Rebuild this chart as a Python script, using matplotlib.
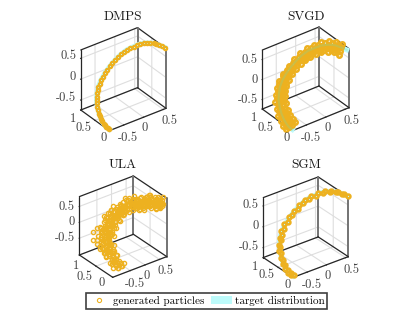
import numpy as np
import matplotlib
matplotlib.use("Agg")
import matplotlib.pyplot as plt
from mpl_toolkits.mplot3d import proj3d

plt.rcParams['font.family'] = ['cmr10', 'DejaVu Sans']
plt.rcParams['axes.unicode_minus'] = False

W, H = 415, 312
ORANGE = "#EDB120"
CYAN = "#BDFBFB"

# ── values ────────────────────────────────────────────────────────────────────
target_x = [-.86, -.865, -.87, -.865, -.86, -.855, -.85, -.84, -.83, -.815, -.80, -.775, -.75, -.715, -.68, -.64, -.60, -.545, -.49, -.425, -.36,
            -.295, -.23, -.165, -.10, -.045, .01, .065, .12, .17, .22, .265, .31, .355, .40, .435, .47, .49, .51, .525, .54]
target_y = [0, .05, .1, .15, .2, .25, .3, .35, .4, .45, .5, .55, .6, .64, .68, .715, .75, .78, .81, .83, .85,
            .855, .86, .855, .85, .83, .81, .78, .75, .70, .65, .60, .55, .49, .43, .365, .30, .225, .15, .075, 0]
target_z = [-.71, -.705, -.70, -.685, -.67, -.64, -.61, -.575, -.54, -.49, -.44, -.39, -.34, -.295, -.25, -.205, -.16, -.115, -.07, -.02, .03,
            .085, .14, .195, .25, .305, .36, .41, .46, .505, .55, .59, .63, .655, .68, .695, .71, .715, .72, .725, .73]

sgm_x = [-.84, -.885, -.85, -.885, -.84, -.875, -.83, -.86, -.81, -.835, -.78, -.795, -.73, -.735, -.66, -.66, -.58, -.565, -.47, -.445, -.34,
         -.315, -.21, -.185, -.08, -.065, .03, .045, .14, .15, .24, .245, .33, .335, .42, .415, .49, .47, .53, .505, .56]
sgm_z = [-.70, -.71, -.69, -.69, -.66, -.645, -.60, -.58, -.53, -.495, -.43, -.395, -.33, -.30, -.24, -.21, -.17, -.10, -.09, 0, .01,
         .11, .12, .22, .23, .33, .34, .435, .44, .53, .53, .615, .61, .68, .66, .72, .69, .74, .70, .75, .71]

svgd_xyz = [
    (-.94, .1, -.73), (-.87, .1, -.70), (-.80, .1, -.67), (-.71, .1, -.64),
    (-.94, .2, -.69), (-.86, .2, -.67), (-.78, .2, -.65), (-.70, .2, -.62),
    (-.93, .3, -.63), (-.85, .3, -.61), (-.77, .3, -.59), (-.69, .3, -.57),
    (-.91, .4, -.56), (-.83, .4, -.54), (-.75, .4, -.52), (-.66, .4, -.51),
    (-.88, .5, -.45), (-.80, .5, -.44), (-.72, .5, -.43), (-.63, .5, -.41),
    (-.83, .6, -.35), (-.75, .6, -.34), (-.67, .6, -.33), (-.58, .6, -.32),
    (-.76, .68, -.25), (-.68, .68, -.25), (-.60, .68, -.25), (-.51, .68, -.25),
    (-.68, .75, -.14), (-.60, .75, -.16), (-.52, .75, -.18), (-.44, .75, -.19),
    (-.57, .81, -.05), (-.49, .81, -.07), (-.41, .81, -.09), (-.33, .81, -.12),
    (-.43, .85, .06), (-.36, .85, .03), (-.29, .85, 0), (-.21, .85, -.04),
    (-.29, .86, .19), (-.23, .86, .14), (-.17, .86, .09), (-.09, .86, .04),
    (-.15, .85, .31), (-.10, .85, .25), (-.05, .85, .19), (.01, .85, .12),
    (-.03, .81, .43), (.01, .81, .36), (.05, .81, .29), (.10, .81, .22),
    (.10, .75, .54), (.12, .75, .46), (.14, .75, .38), (.17, .75, .30),
    (.21, .65, .63), (.22, .65, .55), (.23, .65, .47), (.25, .65, .38),
    (.31, .55, .71), (.31, .55, .63), (.31, .55, .55), (.31, .55, .46),
    (.41, .43, .76), (.40, .43, .68), (.39, .43, .60), (.38, .43, .51),
    (.49, .3, .79), (.47, .3, .71), (.45, .3, .63), (.44, .3, .55),
    (.53, .15, .80), (.51, .15, .72), (.49, .15, .64), (.46, .15, .56),
    (-.90, .15, -.69), (-.83, .15, -.67), (-.75, .15, -.64),
    (-.89, .25, -.65), (-.82, .25, -.63), (-.74, .25, -.61),
    (-.88, .35, -.58), (-.80, .35, -.56), (-.72, .35, -.54),
    (-.85, .45, -.50), (-.78, .45, -.48), (-.70, .45, -.47),
    (-.81, .55, -.40), (-.74, .55, -.38), (-.66, .55, -.37),
    (-.76, .64, -.30), (-.68, .64, -.29), (-.60, .64, -.29),
    (-.68, .72, -.20), (-.60, .72, -.21), (-.52, .72, -.22),
    (-.59, .78, -.10), (-.51, .78, -.12), (-.43, .78, -.14),
    (-.46, .83, .01), (-.39, .83, -.02), (-.32, .83, -.05),
    (-.33, .86, .11), (-.27, .86, .08), (-.20, .86, .04),
    (-.18, .86, .23), (-.14, .86, .17), (-.08, .86, .12),
    (-.04, .83, .34), (0, .83, .27), (.05, .83, .21),
    (.07, .78, .44), (.09, .78, .38), (.12, .78, .30),
    (.16, .7, .54), (.18, .7, .47), (.20, .7, .39),
    (.26, .6, .63), (.27, .6, .55), (.28, .6, .47),
    (.35, .49, .70), (.35, .49, .62), (.34, .49, .54),
    (.44, .36, .74), (.43, .36, .66), (.42, .36, .58),
    (.50, .22, .75), (.48, .22, .67), (.46, .22, .59),
]

ula_xyz = [
    (-.72, .05, -.85), (-.79, .1, -.93), (-.89, .02, -.83), (-.97, .12, -.75), (-.85, .08, -.69), (-1.05, .05, -.67), (-.75, .12, -.73), (-.65, .06, -.79),
    (-.80, .06, -.80), (-.90, .1, -.76), (-.84, .14, -.86), (-.95, .04, -.72), (-.78, .03, -.70), (-.70, .1, -.88), (-.87, .16, -.68), (-.99, .1, -.84),
    (-.67, .25, -.66), (-.77, .2, -.74), (-.87, .3, -.60), (-.99, .22, -.56), (-1.09, .28, -.46), (-.81, .26, -.48), (-1.1, .2, -.52), (-.92, .18, -.44), (-.73, .3, -.54),
    (-.83, .22, -.62), (-.93, .26, -.54), (-.78, .28, -.58), (-.88, .2, -.68), (-1.0, .3, -.62), (-.72, .22, -.62), (-.96, .32, -.48), (-.86, .34, -.52),
    (-.55, .45, -.525), (-.62, .4, -.585), (-.72, .48, -.465), (-.82, .42, -.405), (-.94, .46, -.365), (-1.04, .42, -.445), (-.76, .5, -.345), (-.88, .5, -.525), (-1.1, .46, -.305),
    (-.70, .44, -.53), (-.80, .46, -.47), (-.88, .42, -.42), (-.66, .5, -.44), (-.95, .5, -.46), (-.74, .38, -.40), (-.84, .38, -.55), (-.60, .48, -.48),
    (-.36, .6, -.40), (-.46, .58, -.30), (-.56, .62, -.42), (-.66, .6, -.28), (-.78, .56, -.36), (-.88, .62, -.24), (-.96, .6, -.34), (-.52, .6, -.22), (-.72, .64, -.18),
    (-.60, .56, -.34), (-.70, .6, -.40), (-.50, .66, -.36), (-.62, .64, -.24), (-.80, .62, -.30), (-.44, .62, -.38), (-.74, .54, -.26), (-.86, .56, -.30),
    (-.18, .72, -.315), (-.28, .7, -.195), (-.38, .74, -.295), (-.48, .7, -.155), (-.58, .74, -.235), (-.70, .7, -.115), (-.80, .72, -.075), (-.34, .72, -.095), (-.52, .76, -.035),
    (-.40, .68, -.22), (-.50, .72, -.24), (-.30, .76, -.22), (-.62, .7, -.18), (-.44, .76, -.12), (-.56, .68, -.10), (-.68, .76, -.14), (-.26, .7, -.26), (-.96, .72, -.15), (-.95, .72, -.41),
    (.10, .82, -.245), (0, .8, -.125), (-.08, .84, -.225), (-.18, .8, -.065), (-.28, .84, -.145), (-.38, .82, .035), (-.46, .8, -.025), (-.06, .82, -.005), (-.24, .84, .095),
    (-.12, .78, -.16), (-.20, .82, -.18), (-.04, .86, -.14), (-.30, .8, -.08), (-.16, .86, -.02), (-.34, .84, -.02), (.04, .8, -.18), (-.42, .86, .06),
    (.25, .86, -.135), (.17, .84, -.015), (.09, .88, -.115), (-.01, .84, .045), (-.11, .88, -.035), (-.19, .86, .165), (-.29, .84, .105), (.13, .86, .125), (-.07, .88, .245),
    (.02, .84, -.06), (.10, .9, .02), (-.06, .86, .10), (.18, .82, -.08), (-.16, .9, .04), (.04, .88, .18), (-.22, .82, .22), (.21, .88, .05),
    (.55, .85, -.085), (.49, .84, .055), (.43, .86, -.025), (.35, .84, .155), (.27, .86, .115), (.21, .84, .295), (.13, .86, .255), (.43, .82, .235), (.31, .86, .375),
    (.38, .82, .03), (.30, .88, .05), (.46, .88, .12), (.24, .82, .18), (.36, .88, .26), (.18, .88, .16), (.52, .82, .18), (.40, .84, .34),
    (.64, .75, -.045), (.60, .72, .075), (.54, .78, .035), (.50, .74, .175), (.44, .76, .315), (.40, .72, .415), (.58, .76, .255), (.48, .74, .455), (.66, .72, .195),
    (.56, .7, .14), (.50, .78, .10), (.62, .74, .12), (.46, .72, .26), (.54, .74, .33), (.42, .78, .22), (.68, .78, .08), (.52, .7, .38),
    (.64, .6, .05), (.60, .58, .15), (.54, .62, .21), (.50, .58, .33), (.46, .6, .45), (.62, .62, .33), (.56, .6, .49), (.68, .58, .23), (.42, .62, .31),
    (.58, .56, .26), (.52, .6, .12), (.66, .64, .14), (.48, .64, .24), (.60, .66, .40), (.54, .54, .38), (.44, .56, .40), (.70, .62, .30),
    (.68, .42, .23), (.64, .4, .33), (.60, .44, .43), (.56, .38, .53), (.54, .4, .65), (.66, .42, .57), (.72, .4, .41), (.60, .38, .69), (.50, .42, .39),
    (.62, .46, .30), (.58, .36, .40), (.70, .44, .50), (.54, .46, .55), (.64, .36, .48), (.56, .42, .34), (.74, .38, .32), (.66, .46, .62),
    (.73, .2, .365), (.67, .22, .465), (.63, .18, .565), (.59, .2, .685), (.73, .18, .605), (.69, .22, .725), (.75, .2, .505), (.63, .22, .365), (.55, .2, .545),
    (.65, .26, .42), (.60, .26, .54), (.71, .24, .55), (.67, .16, .50), (.62, .14, .62), (.74, .26, .44), (.57, .16, .46), (.68, .26, .64),
    (.65, .05, .55), (.61, .06, .67), (.57, .04, .77), (.63, .02, .89), (.57, .08, .57), (.67, .06, .75),
    (.60, .1, .62), (.64, .1, .50), (.55, .02, .64), (.66, .02, .66), (.70, .1, .62),
    (-.88, .16, -.70), (-.96, .15, -.64), (-.90, .18, -.60), (-1.0, .17, -.72), (-.82, .14, -.66), (-.86, .19, -.76),
    (-.82, .35, -.54), (-.90, .36, -.48), (-.85, .33, -.44), (-.95, .35, -.55), (-.77, .36, -.50), (-1.0, .37, -.42),
    (-.70, .53, -.42), (-.78, .52, -.36), (-.68, .5, -.33), (-.82, .54, -.44), (-.60, .54, -.42), (-.90, .52, -.34),
    (-.50, .66, -.30), (-.58, .66, -.26), (-.64, .68, -.32), (-.46, .68, -.24), (-.72, .68, -.22), (-.36, .66, -.34),
    (-.26, .77, -.20), (-.34, .78, -.16), (-.22, .78, -.26), (-.40, .78, -.10), (-.14, .76, -.24), (-.48, .78, -.18), (-.30, .76, -.08),
    (-.04, .84, -.08), (-.10, .84, -.04), (.02, .85, -.16), (-.18, .84, .02), (.08, .84, -.02),
    (.12, .85, -.02), (.18, .86, -.10), (.06, .86, .06), (.24, .85, -.04), (.16, .84, .08), (0, .88, .12), (.28, .86, -.12),
    (.26, .85, .02), (.32, .86, -.06), (.20, .86, .12), (.36, .85, .02), (.28, .84, .14), (.14, .84, .22), (.40, .84, -.08),
    (.46, .8, .16), (.52, .8, .06), (.40, .8, .26), (.56, .8, .10), (.48, .78, .28), (.34, .8, .34), (.58, .78, 0),
    (.56, .67, .24), (.60, .68, .14), (.52, .68, .36), (.64, .66, .22), (.48, .66, .40), (.60, .66, .32),
    (.60, .5, .38), (.64, .5, .28), (.56, .5, .50), (.66, .52, .40), (.52, .5, .44), (.60, .48, .58),
    (.62, .3, .52), (.66, .3, .42), (.60, .3, .62), (.70, .3, .54), (.56, .3, .50), (.66, .28, .68),
    (.62, .12, .58), (.66, .13, .66), (.58, .12, .72), (.68, .12, .56), (.54, .12, .62), (.64, .1, .78),
]

particles = [
    (target_x, target_y, target_z),
    tuple(zip(*svgd_xyz)),
    tuple(zip(*ula_xyz)),
    (sgm_x, target_y, sgm_z),
]

titles = ["DMPS", "SVGD", "ULA", "SGM"]
title_rows = [17, 17, 165, 165]
xlims = [(-.86, .57), (-.86, .6), (-1.1, .75), (-.86, .57)]
zlims = [(-.74, .70), (-.74, .735), (-1.03, .81), (-.74, .70)]
views = [(32.3, -126.4), (32.8, -126.9), (30.4, -127.1), (29.8, -127.1)]
aspects = [(70.5, 48.1, 71), (70.9, 50, 70.2), (67.7, 55.2, 67.6), (68.9, 49.8, 69.1)]
# front corner and left/right box ends, picture pixels
fronts = [(109.3, 130.7), (292.3, 130.7), (112.7, 277.3), (293.3, 277.3)]
sides = [(80.7, 166), (262.3, 349), (79.3, 166.7), (263.3, 348.3)]
marker_sizes = [2.4, 3.2, 3, 2.8]
marker_widths = [1.6, 1.8, 1, 1.8]
ticks_xz = [-.5, 0, .5]
ticks_y = [0, .5, 1]
tick_labels_xz = ["-0.5", "0", "0.5"]
tick_labels_y = ["0", "0.5", "1"]
# label offsets from the tick, pixels
x_label_offsets = [(-5.5, -13), (-1.5, -11), (-1.8, -12)]
z_label_dy = [2, 0, 0, 1]
y_label_offsets = [[(-3, -7.5), (-4, -8), (-5, -9)],
                   [(-3, -7.5), (-4, -8), (-5, -9)],
                   [(-8, -5.5), (-3.5, -10.5), (0, -11)],
                   [(-3, -7.5), (-4, -8), (-5, -9)]]


def edge(ax, p, q, color=".15", lw=.9):
    ax.plot(*zip(p, q), color=color, lw=lw, zorder=1, solid_capstyle="round")


def fit_box(ax, limits, aspect, front, side):
    (x0, x1), (y0, y1), (z0, z1) = limits

    def px(x, y, z):
        X, Y, _ = proj3d.proj_transform(x, y, z, ax.get_proj())
        return ax.transData.transform((X, Y))

    ax.apply_aspect()
    width = px(x1, y0, z0)[0] - px(x0, y1, z0)[0]
    ax.set_box_aspect(aspect, zoom=(side[1] - side[0]) / width)
    ax.apply_aspect()
    got = px(x0, y0, z0)
    pos = ax.get_position()
    ax.set_position([pos.x0 + (front[0] - got[0]) / W,
                     pos.y0 + (H - front[1] - got[1]) / H,
                     pos.width, pos.height])
    ax.apply_aspect()


def tick_label(ax, xyz, text, offset, ha):
    X, Y, _ = proj3d.proj_transform(*xyz, ax.get_proj())
    ax.annotate(text, (X, Y), xytext=offset, textcoords="offset pixels", ha=ha, va="center",
                fontsize=9, color=".25", annotation_clip=False)


fig = plt.figure(figsize=(W / 100, H / 100), dpi=100)

for i, name in enumerate(titles):
    ax = fig.add_axes([.1, .1, .4, .4 * W / H], projection="3d", proj_type="ortho")
    ax.computed_zorder = False
    ax.patch.set_alpha(0)
    xl, yl, zl = xlims[i], (0, 1), zlims[i]
    ax.set_xlim(*xl, view_margin=0)
    ax.set_ylim(*yl, view_margin=0)
    ax.set_zlim(*zl, view_margin=0)
    ax.view_init(elev=views[i][0], azim=views[i][1])
    ax.set_box_aspect(aspects[i])

    for axis in (ax.xaxis, ax.yaxis, ax.zaxis):
        axis.set_pane_color((1, 1, 1, 1))
        axis.pane.set_edgecolor("none")
        axis.line.set_color((0, 0, 0, 0))
        axis._axinfo["grid"].update(color=".87", linewidth=.8)
        axis._axinfo["tick"].update(inward_factor=.03, outward_factor=0)
    ax.set_xticks(ticks_xz, [""] * 3)
    ax.set_yticks(ticks_y, [""] * 3)
    ax.set_zticks(ticks_xz, [""] * 3)
    ax.tick_params(color=".15")

    a, b = xl
    c, d = zl
    edge(ax, (a, 1, d), (b, 1, d))
    edge(ax, (b, 1, d), (b, 0, d))
    edge(ax, (a, 1, c), (a, 1, d))
    edge(ax, (b, 1, c), (b, 1, d), ".45", 1.4)
    edge(ax, (b, 0, c), (b, 0, d), ".45", 1.4)
    edge(ax, (a, 0, c), (b, 0, c))
    edge(ax, (a, 0, c), (a, 1, c))
    edge(ax, (a, 1, c), (b, 1, c))
    edge(ax, (b, 1, c), (b, 0, c))

    # no target shows through the ULA cloud in the reference
    if name != "ULA":
        ax.plot(target_x, target_y, target_z, color=CYAN, lw=3.6, zorder=2)
    px_, py_, pz_ = particles[i]
    ax.plot(px_, py_, pz_, "o", ms=marker_sizes[i], mfc="none", mec=ORANGE, mew=marker_widths[i], zorder=3)
    if name == "SVGD":
        ax.plot(target_x, target_y, target_z, color="#7FD8A0", lw=1.5, alpha=.3, zorder=4)
    fit_box(ax, (xl, yl, zl), aspects[i], fronts[i], sides[i])

    for t, lab, off in zip(ticks_xz, tick_labels_xz, x_label_offsets):
        tick_label(ax, (t, 0, c), lab, off, "left")
    for t, lab in zip(ticks_xz, tick_labels_xz):
        tick_label(ax, (a, 1, t), lab, (-4.7, z_label_dy[i]), "right")
    for t, lab, off in zip(ticks_y, tick_labels_y, y_label_offsets[i]):
        tick_label(ax, (a, t, c), lab, off, "right")

    fig.text(sum(sides[i]) / 2 / W, 1 - title_rows[i] / H, name, ha="center", va="center", fontsize=9.5, color=".1")

h1 = plt.Line2D([], [], ls="none", marker="o", ms=3, mfc="none", mec=ORANGE, mew=.8)
h2 = plt.Rectangle((0, 0), 1, 1, fc=CYAN, ec="none")
leg = fig.legend([h1, h2], ["generated particles", "target distribution"], ncol=2, fontsize=8,
                 loc="center", bbox_to_anchor=(206.5 / W, 1 - 301 / H), fancybox=False, framealpha=1,
                 edgecolor=".25", borderpad=.25, handlelength=1.9, handleheight=.7,
                 handletextpad=.25, columnspacing=.6, borderaxespad=0)
leg.get_frame().set_linewidth(1.2)
fig.savefig("out.png", dpi=100)
